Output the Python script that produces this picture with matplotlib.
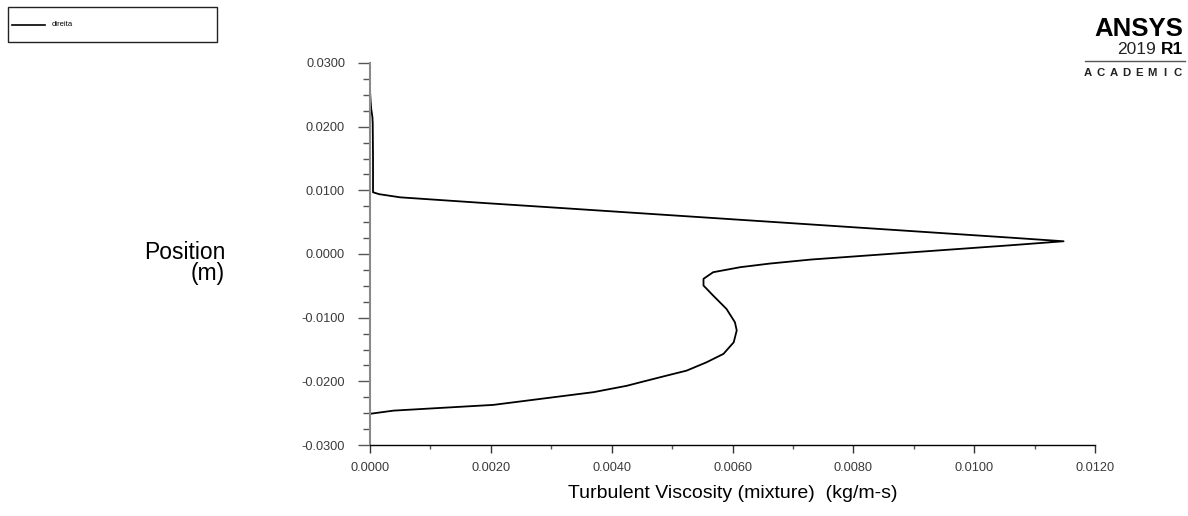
import matplotlib
matplotlib.use("Agg")
import matplotlib.pyplot as plt
from matplotlib.ticker import MultipleLocator, FormatStrFormatter
from matplotlib.patches import Rectangle
from matplotlib.lines import Line2D

# Turbulent viscosity profile along the line "direita"
position = [0.0257, 0.0240, 0.0228, 0.0215, 0.0205, 0.0150, 0.0100, 0.0097,
            0.0094, 0.0089, 0.0080, 0.0072, 0.00645, 0.00514, 0.0037, 0.00257,
            0.0020, 0.00137, 0.00013, -0.00087, -0.0015, -0.00207, -0.00286,
            -0.0039, -0.00495, -0.00653, -0.00862, -0.01072, -0.0120,
            -0.01387, -0.01569, -0.01701, -0.01832, -0.0191, -0.02016,
            -0.0207, -0.0217, -0.0227, -0.0237, -0.0243, -0.0246, -0.0251]
viscosity = [0.0, 0.00001, 0.00002, 0.00004, 0.000045, 0.00005, 0.00005,
             0.00005, 0.00015, 0.0005, 0.0019, 0.0032, 0.0044, 0.0065, 0.0088,
             0.0106, 0.01148, 0.0106, 0.00877, 0.0073, 0.00662, 0.00613,
             0.00568, 0.00552, 0.00552, 0.00568, 0.0059, 0.00604, 0.00607,
             0.00602, 0.00585, 0.00557, 0.00524, 0.00491, 0.00447, 0.00425,
             0.0037, 0.00287, 0.00204, 0.00094, 0.00039, 0.0]
series_name = "direita"
x_label = "Turbulent Viscosity (mixture)  (kg/m-s)"
y_label = "Position\n(m)"

W, H = 1188, 516
plt.rcParams["font.family"] = ["Liberation Sans", "DejaVu Sans"]
fig = plt.figure(figsize=(W / 100, H / 100), dpi=100)
fig.patch.set_facecolor("white")


def fx(px):
    return px / W


def fy(py):
    return 1 - py / H


ax = fig.add_axes([fx(370), fy(445), fx(1095) - fx(370), fy(63) - fy(445)])
ax.plot(viscosity, position, color="black", lw=1.3, solid_joinstyle="round")

ax.set_xlim(0.0, 0.012)
ax.set_ylim(-0.03, 0.03)
ax.xaxis.set_major_locator(MultipleLocator(0.002))
ax.xaxis.set_minor_locator(MultipleLocator(0.001))
ax.yaxis.set_major_locator(MultipleLocator(0.01))
ax.yaxis.set_minor_locator(MultipleLocator(0.0025))
ax.xaxis.set_major_formatter(FormatStrFormatter("%.4f"))
ax.yaxis.set_major_formatter(FormatStrFormatter("%.4f"))

for side in ("top", "right"):
    ax.spines[side].set_visible(False)
ax.spines["left"].set_color("#8a8a8a")
ax.spines["left"].set_linewidth(1.5)
ax.spines["bottom"].set_color("black")
ax.spines["bottom"].set_linewidth(1.0)

ax.tick_params(axis="y", which="major", direction="out", length=9, width=1.0,
               color="#555555", pad=9, labelsize=9.2, labelcolor="#3a3a3a")
ax.tick_params(axis="y", which="minor", direction="out", length=5, width=1.0,
               color="#555555")
ax.tick_params(axis="x", which="major", direction="out", length=5.5, width=1.0,
               color="#333333", pad=6.5, labelsize=9.2, labelcolor="#3a3a3a")
ax.tick_params(axis="x", which="minor", direction="out", length=3, width=1.0,
               color="#555555")

ax.set_xlabel(x_label, fontsize=14, labelpad=8)
fig.text(fx(225), fy(263), y_label, fontsize=16.5, ha="right", va="center",
         multialignment="right", linespacing=0.88)

# Legend frame with the series sample
fig.patches.append(Rectangle((fx(8), fy(42)), fx(217) - fx(8), fy(7) - fy(42),
                             transform=fig.transFigure, fill=False,
                             edgecolor="#222222", linewidth=1.0))
fig.lines.append(Line2D([fx(12), fx(45)], [fy(25), fy(25)],
                        transform=fig.transFigure, color="black", lw=1.2))
fig.text(fx(52), fy(25), series_name, fontsize=5.5, va="center", ha="left")

# Product badge
fig.text(fx(1183), fy(29), "ANSYS", fontsize=18.5, fontweight="heavy",
         ha="right", va="center", color="black")
fig.text(fx(1156), fy(49), "2019", fontsize=12.5, ha="right", va="center",
         color="#222222")
fig.text(fx(1183), fy(49), "R1", fontsize=12.5, fontweight="bold",
         ha="right", va="center", color="black")
fig.lines.append(Line2D([fx(1085), fx(1185)], [fy(61), fy(61)],
                        transform=fig.transFigure, color="#555555", lw=1.0))
for i, ch in enumerate("ACADEMIC"):
    fig.text(fx(1088 + i * 12.8), fy(73.5), ch, fontsize=8.2,
             fontweight="bold", ha="center", va="center", color="#222222")

fig.savefig("out.png", dpi=100, facecolor="white")
